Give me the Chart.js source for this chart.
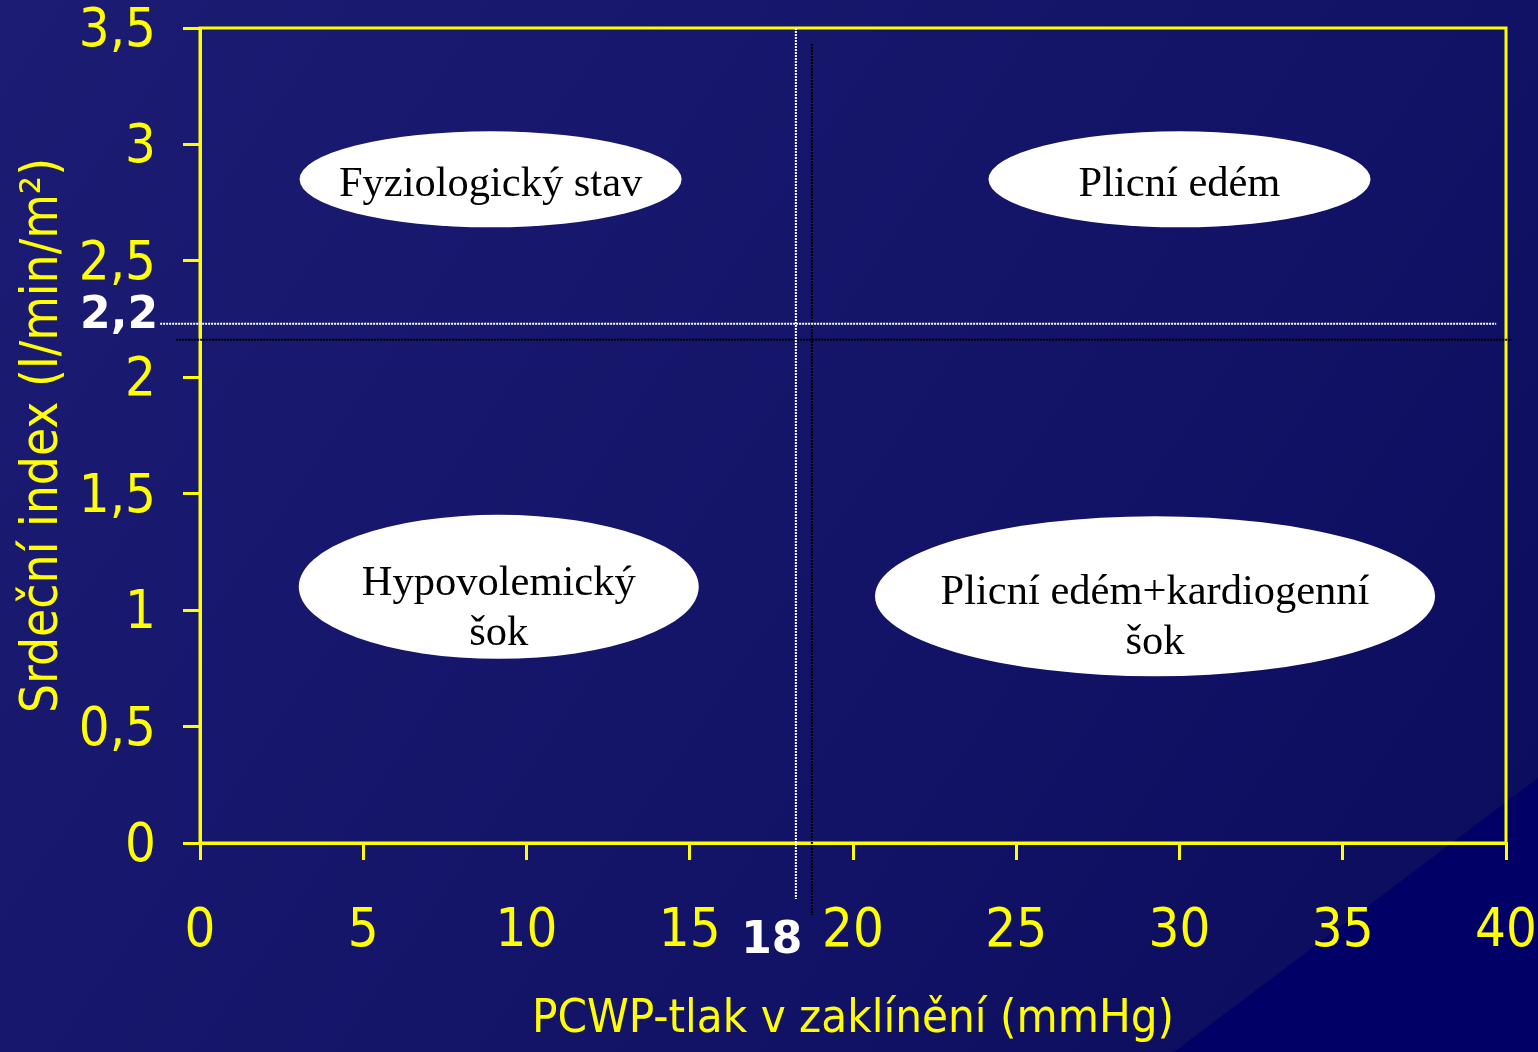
<!DOCTYPE html>
<html><head><meta charset="utf-8">
<script src="https://cdn.jsdelivr.net/npm/chart.js@4"></script>
<style>html,body{margin:0;padding:0;background:#14146a;overflow:hidden}canvas{display:block}</style>
</head><body>
<canvas id="c" width="1538" height="1052"></canvas>
<script>
// axes
const xMin = 0, xMax = 40, xStep = 5;
const yMin = 0, yMax = 3.5, yStep = 0.5;
const xTitle = 'PCWP-tlak v zaklínění (mmHg)';
const yTitle = 'Srdeční index (l/min/m²)';

// zones (ellipse centres)
const zoneNames = [['Fyziologický stav'], ['Plicní edém'], ['Hypovolemický', 'šok'], ['Plicní edém+kardiogenní', 'šok']];
const zoneX = [8.9, 30, 9.15, 29.25];
const zoneY = [2.85, 2.85, 1.1, 1.06];

// threshold lines
const refX = 18.25, refY = 2.23;
const refXFrom = -0.24, refXTo = 3.5;   // y extent of the vertical line
const refYFrom = -1.22, refYTo = 39.7;  // x extent of the horizontal line
const refXLabel = '18', refYLabel = '2,2';

// styles
const YELLOW = '#ffff00';
const zoneRx = [191, 191, 200, 280];
const zoneRy = [48, 48, 72, 80];
const sansFont = '"DejaVu Sans Condensed", "DejaVu Sans", sans-serif';

const deco = {
  id: 'deco',
  beforeDraw(chart) {
    const ctx = chart.ctx, W = chart.width, H = chart.height;
    ctx.save();
    const g = ctx.createLinearGradient(0, 0, W, H);
    g.addColorStop(0, '#1c1c74');
    g.addColorStop(1, '#0c0c5e');
    ctx.fillStyle = g;
    ctx.fillRect(0, 0, W, H);
    ctx.fillStyle = '#000066';
    ctx.beginPath();
    ctx.moveTo(W, 778); ctx.lineTo(1174, H); ctx.lineTo(W, H); ctx.closePath();
    ctx.fill();
    ctx.restore();
  },
  afterDraw(chart) {
    const { ctx, chartArea: a, scales: { x, y } } = chart;
    ctx.save();
    ctx.strokeStyle = YELLOW;
    ctx.lineWidth = 3;
    ctx.strokeRect(a.left, a.top, a.right - a.left, a.bottom - a.top);

    // dotted threshold lines with a black drop shadow
    const px = x.getPixelForValue(refX), py = y.getPixelForValue(refY);
    const vy1 = y.getPixelForValue(refXTo), vy2 = y.getPixelForValue(refXFrom);
    const hx1 = x.getPixelForValue(refYFrom), hx2 = x.getPixelForValue(refYTo);
    ctx.lineWidth = 2;
    ctx.setLineDash([2, 1]);
    [['#000000', 16], ['#ffffff', 0]].forEach(([c, o]) => {
      ctx.strokeStyle = c;
      ctx.beginPath();
      ctx.moveTo(px + o, vy1 + o); ctx.lineTo(px + o, vy2 + o);
      ctx.moveTo(hx1 + o, py + o); ctx.lineTo(hx2 + o, py + o);
      ctx.stroke();
    });
    ctx.setLineDash([]);

    ctx.fillStyle = '#ffffff';
    ctx.font = 'bold 44px "DejaVu Sans", sans-serif';
    ctx.textBaseline = 'middle';
    ctx.textAlign = 'right';
    ctx.fillText(refYLabel, y.right - 42, py - 7);
    ctx.textAlign = 'center';
    ctx.fillText(refXLabel, px - 24, a.bottom + 99);

    // zone ellipses
    const meta = chart.getDatasetMeta(0);
    meta.data.forEach((pt, i) => {
      ctx.fillStyle = '#ffffff';
      ctx.beginPath();
      ctx.ellipse(pt.x, pt.y, zoneRx[i], zoneRy[i], 0, 0, Math.PI * 2);
      ctx.fill();
      ctx.fillStyle = '#000000';
      ctx.font = '42.5px "Liberation Serif", "Times New Roman", serif';
      const lines = zoneNames[i];
      const n = lines.length, lh = 50;
      lines.forEach((t, k) => {
        ctx.fillText(t, pt.x, pt.y + 5 + (k - (n - 1) / 2) * lh + (n - 1) * 17);
      });
    });
    ctx.restore();
  }
};

new Chart(document.getElementById('c'), {
  type: 'scatter',
  data: {
    datasets: [{
      data: zoneX.map((v, i) => ({ x: v, y: zoneY[i] })),
      pointRadius: 0,
      pointHoverRadius: 0
    }]
  },
  options: {
    responsive: false,
    animation: false,
    events: [],
    layout: { padding: { left: 0, top: 28, right: 32, bottom: 0 } },
    plugins: { legend: { display: false }, tooltip: { enabled: false } },
    scales: {
      x: {
        type: 'linear', min: xMin, max: xMax,
        ticks: { stepSize: xStep, color: YELLOW, padding: 40, font: { family: sansFont, size: 54 } },
        grid: { drawOnChartArea: false, color: YELLOW, lineWidth: 3, tickLength: 17 },
        border: { color: YELLOW, width: 3 },
        title: { display: true, text: xTitle, color: YELLOW, font: { family: sansFont, size: 47 }, padding: { top: 0, bottom: 4 } },
        afterFit(s) { s.height = 209; s.paddingLeft = 0; s.paddingRight = 0; }
      },
      y: {
        type: 'linear', min: yMin, max: yMax,
        ticks: { stepSize: yStep, color: YELLOW, padding: 27, labelOffset: 4, font: { family: sansFont, size: 54 },
          callback: v => String(v).replace('.', ',') },
        grid: { drawOnChartArea: false, color: YELLOW, lineWidth: 3, tickLength: 17 },
        border: { color: YELLOW, width: 3 },
        title: { display: true, text: yTitle, color: YELLOW, font: { family: sansFont, size: 51 }, padding: { top: 13, bottom: 0 } },
        afterFit(s) { s.width = 200; s.paddingTop = 0; s.paddingBottom = 0; }
      }
    }
  },
  plugins: [deco]
});
</script>
</body></html>
